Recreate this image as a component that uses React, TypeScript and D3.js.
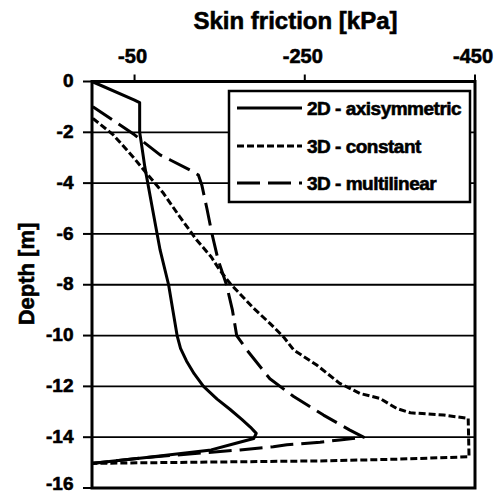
import React from "react";
import * as d3 from "d3";

// ---- data (kPa negative = skin friction, depth in m negative) ----
const xTicks = [-50, -250, -450];
const yTicks = [0, -2, -4, -6, -8, -10, -12, -14, -16];

const axisDepth = [0, -0.73, -0.83, -2.0, -2.43, -3.35, -5.0, -6.63, -8.0, -9.0, -10.0, -10.5, -11.0, -11.5, -12.0, -12.5, -12.9, -13.3, -13.6, -13.85, -14.05, -14.25, -14.5, -14.8, -15.03];
const axisKpa = [0, -50, -56, -56, -58, -62, -71, -80, -90, -95, -100, -104, -111, -120, -131, -147, -162, -176, -186, -193, -190, -168, -140, -64, -1];

const constDepth = [-1.45, -2.1, -2.96, -3.61, -4.4, -5.32, -6.24, -6.9, -7.42, -7.94, -8.93, -9.52, -10.05, -10.57, -11.16, -11.88, -12.28, -12.47, -12.87, -13.04, -13.13, -13.26, -14.77, -14.87, -14.93, -15.03];
const constKpa = [-1, -25, -48, -64, -84, -103, -123, -140, -150, -162, -190, -209, -225, -237, -264, -291, -315, -338, -358, -374, -413, -442, -443, -354, -276, -1];

const multiDepth = [-0.99, -1.71, -2.1, -2.89, -3.09, -3.48, -3.68, -4.07, -5.0, -6.0, -7.0, -8.0, -9.0, -10.0, -10.57, -11.7, -12.4, -13.13, -13.72, -14.0, -14.11, -14.2, -14.3, -14.38, -14.5, -14.8, -15.03];
const multiKpa = [-1, -33, -50, -80, -92, -115, -125, -129, -135, -141, -148, -158, -165, -170, -182, -209, -237, -272, -303, -319, -291, -268, -229, -213, -174, -64, -1];

const seriesNames = ["2D - axisymmetric", "3D - constant", "3D - multilinear"];
const seriesDash = ["", "7,3", "23,8"];

const FONT = "'Liberation Sans', Arial, sans-serif";

export default function App() {
  const W = 497, H = 495;
  const x = d3.scaleLinear().domain([0, -450]).range([92, 475]);
  const y = d3.scaleLinear().domain([0, -16]).range([81.5, 488]);

  const line = d3
    .line<[number, number]>()
    .x((d) => x(d[0]))
    .y((d) => y(d[1]));

  const series = [
    axisKpa.map((k, i) => [k, axisDepth[i]] as [number, number]),
    constKpa.map((k, i) => [k, constDepth[i]] as [number, number]),
    multiKpa.map((k, i) => [k, multiDepth[i]] as [number, number]),
  ];

  const [x0, x1] = x.range();
  const [y0, y1] = y.range();

  const legX = 229, legY = 91, legW = 241, legH = 111;
  const rowY = [108, 146, 183];
  const txt = { stroke: "#000", strokeWidth: 0.6 };

  return (
    <svg
      width={W}
      height={H}
      style={{ position: "absolute", left: 0, top: 0, background: "#fff" }}
      fontFamily={FONT}
      fontWeight="bold"
    >
      <rect x={0} y={0} width={W} height={H} fill="#fff" />
      {/* gridlines */}
      {yTicks
        .filter((t) => t !== 0 && t !== -16)
        .map((t) => (
          <line key={"g" + t} x1={x0} x2={x1} y1={y(t)} y2={y(t)} stroke="#000" strokeWidth={1.8} />
        ))}
      {/* y ticks */}
      {yTicks.map((t) => (
        <line key={"yt" + t} x1={x0 - 9} x2={x0} y1={y(t)} y2={y(t)} stroke="#000" strokeWidth={2} />
      ))}
      {/* x ticks (top, outward) */}
      {xTicks.map((t) => (
        <line key={"xt" + t} x1={x(t)} x2={x(t)} y1={y0 - 7} y2={y0} stroke="#000" strokeWidth={2} />
      ))}
      {/* series */}
      {series.map((s, i) => (
        <path
          key={"s" + i}
          d={line(s) || ""}
          fill="none"
          stroke="#000"
          strokeWidth={3}
          strokeDasharray={seriesDash[i] || undefined}
          strokeLinejoin="round"
        />
      ))}
      {/* frame */}
      <rect x={x0} y={y0} width={x1 - x0} height={y1 - y0} fill="none" stroke="#000" strokeWidth={3} />
      {/* legend */}
      <rect x={legX} y={legY} width={legW} height={legH} fill="#fff" stroke="#000" strokeWidth={2.5} />
      {seriesNames.map((n, i) => (
        <g key={"l" + i}>
          <line x1={237} x2={302} y1={rowY[i]} y2={rowY[i]} stroke="#000" strokeWidth={3} strokeDasharray={seriesDash[i] || undefined} />
          <text x={307} y={rowY[i]} dy="0.36em" fontSize={19} letterSpacing={-0.5} {...txt}>
            {n}
          </text>
        </g>
      ))}
      {/* tick labels */}
      {xTicks.map((t) => (
        <text key={"xl" + t} x={x(t) - 2} y={62.5} textAnchor="middle" fontSize={20} {...txt}>
          {String(t)}
        </text>
      ))}
      {yTicks.map((t) => (
        <text key={"yl" + t} x={73.5} y={Math.min(y(t) + 5.7, H - 5)} textAnchor="end" fontSize={19} {...txt}>
          {String(t)}
        </text>
      ))}
      {/* axis titles */}
      <text x={295.5} y={28.5} textAnchor="middle" fontSize={24} {...txt}>
        Skin friction [kPa]
      </text>
      <text transform={`translate(34,274) rotate(-90)`} textAnchor="middle" fontSize={22} {...txt}>
        Depth [m]
      </text>
    </svg>
  );
}
